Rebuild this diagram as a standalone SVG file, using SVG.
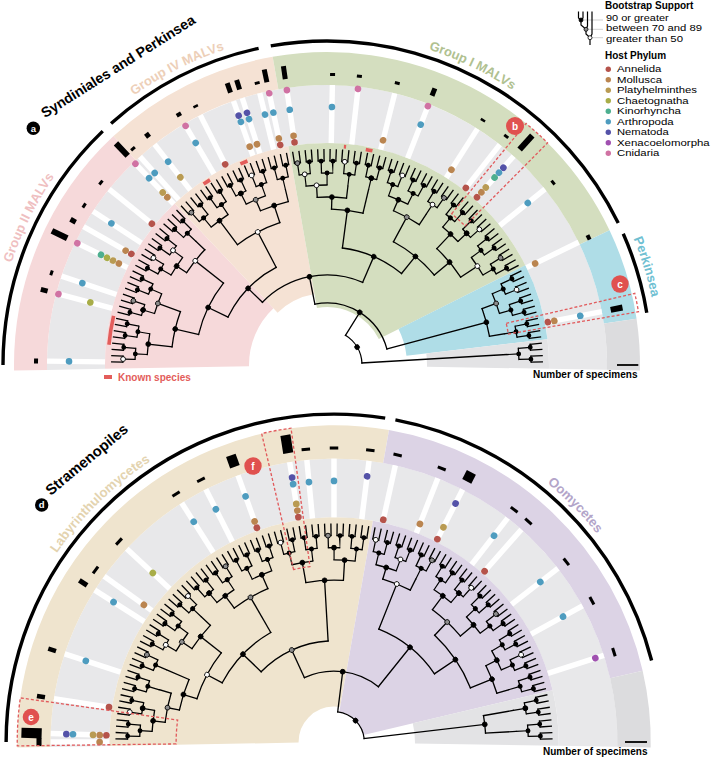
<svg xmlns="http://www.w3.org/2000/svg" width="712" height="758" viewBox="0 0 712 758">
<style>
text{font-family:"Liberation Sans",Arial,Helvetica,sans-serif}
.tk{fill:none;stroke:#000;stroke-linecap:butt}
.ar{fill:none;stroke:#000;stroke-width:1.3;stroke-linecap:square}
.st{stroke:#000;stroke-width:1.3;stroke-linecap:square}
.nb{fill:#000;stroke:#000;stroke-width:.8}
.ng{fill:#8c8c8c;stroke:#000;stroke-width:.8}
.nw{fill:#fff;stroke:#000;stroke-width:.8}
.bg{fill:none}
.bx{fill:none;stroke:#E15A5C;stroke-width:1.3;stroke-dasharray:3 2}
.lb{font-weight:bold;font-size:13px}
.dr{fill:none;stroke:#000;stroke-linecap:round}
.lg{font-size:9.3px}
</style>
<defs>
<clipPath id="ch"><rect x="-400" y="-400" width="800" height="401.5"/></clipPath>
<path id="lp" d="M-331.5,0 A331.5,331.5 0 0 1 331.5,0"/>
<rect id="wb" x="-280" y="-2.7" width="58" height="5.4" fill="#fff"/>
<rect id="ds" x="-292" y="-4.2" width="3" height="8.4"/>
<circle id="A" cx="-225" r="3.3" fill="#B5534B"/>
<circle id="M" cx="-231.6" r="3.3" fill="#BA8550"/>
<circle id="P" cx="-238.2" r="3.3" fill="#B99B53"/>
<circle id="C" cx="-244.8" r="3.3" fill="#A8AD48"/>
<circle id="K" cx="-251.4" r="3.3" fill="#4DAF8F"/>
<circle id="Ar" cx="-258" r="3.3" fill="#4E9CBF"/>
<circle id="N" cx="-264.6" r="3.3" fill="#5452A8"/>
<circle id="X" cx="-271.2" r="3.3" fill="#A050B0"/>
<circle id="Cn" cx="-277.8" r="3.3" fill="#D072A3"/>
</defs>
<rect width="712" height="758" fill="#fff"/>

<g id="tree-a" transform="translate(327,365)">
 <g id="backgrounds-a">
  <circle class="bg" r="251" stroke="#E8E8EA" stroke-width="58" pathLength="360" stroke-dasharray="182 360" transform="rotate(179)"/>
  <circle class="bg" r="296.5" stroke="#F6D9DA" stroke-width="33" pathLength="360" stroke-dasharray="48 360" transform="rotate(179)"/>
  <circle class="bg" r="296.5" stroke="#F5E2D4" stroke-width="33" pathLength="360" stroke-dasharray="33 360" transform="rotate(227)"/>
  <circle class="bg" r="296.5" stroke="#D4DEBF" stroke-width="33" pathLength="360" stroke-dasharray="74.5 360" transform="rotate(260)"/>
  <circle class="bg" r="296.5" stroke="#AFDDE7" stroke-width="33" pathLength="360" stroke-dasharray="17 360" transform="rotate(334.5)"/>
  <circle class="bg" r="296.5" stroke="#DCDCDE" stroke-width="33" pathLength="360" stroke-dasharray="9.5 360" transform="rotate(351.5)"/>
  <circle class="bg" r="150" stroke="#F6D9DA" stroke-width="144" pathLength="360" stroke-dasharray="47.67 360" transform="rotate(179)"/>
  <circle class="bg" r="147" stroke="#F5E2D4" stroke-width="150" pathLength="360" stroke-dasharray="33.33 360" transform="rotate(226.67)"/>
  <circle class="bg" r="140" stroke="#D4DEBF" stroke-width="164" pathLength="360" stroke-dasharray="73.33 360" transform="rotate(260)"/>
  <circle class="bg" r="151" stroke="#AFDDE7" stroke-width="142" pathLength="360" stroke-dasharray="20 360" transform="rotate(333.33)"/>
  <circle class="bg" r="161" stroke="#E3E3E5" stroke-width="122" pathLength="360" stroke-dasharray="7.67 360" transform="rotate(353.33)"/>
 </g>
 <g id="known-species-marks">
  <circle r="219" fill="none" stroke="#E35D5B" stroke-width="3.6" pathLength="360" stroke-dasharray="7.7 42.7 2 9 2 25.7 0.6 5.2 1.8 360" transform="rotate(185.3)"/>
 </g>
 <g id="specimens-a">
  <g transform="rotate(0.8)"><use href="#wb"/><use href="#Ar"/><rect x="-293" y="-2.5" width="4" height="5"/></g>
  <g transform="rotate(14.8)"><use href="#wb"/><use href="#Cn"/><use href="#C"/><rect x="-296" y="-2.5" width="7" height="5"/></g>
  <g transform="rotate(18.5)"><use href="#wb"/><use href="#Ar"/><rect x="-292" y="-2.5" width="3" height="5"/></g>
  <g transform="rotate(26)"><use href="#wb"/><use href="#Cn"/><use href="#K"/><use href="#C"/><use href="#P"/><use href="#M"/><rect x="-306" y="-3" width="17" height="6"/></g>
  <g transform="rotate(29.6)"><use href="#wb"/><use href="#M"/><use href="#A"/><rect x="-295" y="-2.5" width="6" height="5"/></g>
  <g transform="rotate(33.3)"><use href="#wb"/><use href="#Ar"/><rect x="-292" y="-2.5" width="3" height="5"/></g>
  <g transform="rotate(38.9)"><use href="#wb"/><use href="#A"/><rect x="-292" y="-2.5" width="3" height="5"/></g>
  <g transform="rotate(46.4)"><use href="#wb"/><use href="#Cn"/><use href="#Ar"/><use href="#P"/><use href="#M"/><rect x="-306" y="-3" width="17" height="6"/></g>
  <g transform="rotate(48.1)"><use href="#wb"/><use href="#Ar"/><rect x="-292" y="-2.5" width="3" height="5"/></g>
  <g transform="rotate(52)"><use href="#wb"/><use href="#Ar"/><use href="#P"/><rect x="-294" y="-2.5" width="5" height="5"/></g>
  <g transform="rotate(59.4)"><use href="#wb"/><use href="#Cn"/><use href="#Ar"/><rect x="-293" y="-2.5" width="4" height="5"/></g>
  <g transform="rotate(63.1)"><use href="#wb"/><use href="#A"/><rect x="-291.5" y="-2.5" width="2.5" height="5"/></g>
  <g transform="rotate(70.5)"><use href="#wb"/><use href="#N"/><use href="#Ar"/><use href="#M"/><rect x="-299" y="-2.5" width="10" height="5"/></g>
  <g transform="rotate(72.4)"><use href="#wb"/><use href="#N"/><use href="#Ar"/><use href="#M"/><rect x="-299" y="-2.5" width="10" height="5"/></g>
  <g transform="rotate(76.1)"><use href="#wb"/><use href="#Ar"/><rect x="-292" y="-2.5" width="3" height="5"/></g>
  <g transform="rotate(78)"><use href="#wb"/><use href="#Cn"/><use href="#Ar"/><use href="#M"/><use href="#A"/><rect x="-302" y="-2.5" width="13" height="5"/></g>
  <g transform="rotate(81.7)"><use href="#wb"/><use href="#Cn"/><use href="#Ar"/><use href="#M"/><use href="#A"/><rect x="-302" y="-2.5" width="13" height="5"/></g>
  <g transform="rotate(91.1)"><use href="#wb"/><use href="#Ar"/><rect x="-292" y="-2.5" width="3" height="5"/></g>
  <g transform="rotate(96.4)"><use href="#wb"/><use href="#Cn"/><rect x="-292" y="-2.5" width="3" height="5"/></g>
  <g transform="rotate(104)"><use href="#wb"/><use href="#M"/><rect x="-292" y="-2.5" width="3" height="5"/></g>
  <g transform="rotate(111.3)"><use href="#wb"/><use href="#Ar"/><use href="#Cn"/><rect x="-297" y="-2.5" width="8" height="5"/></g>
  <g transform="rotate(122.5)"><use href="#wb"/><use href="#M"/><rect x="-291.5" y="-2.5" width="2.5" height="5"/></g>
  <g transform="rotate(128.1)"><use href="#wb"/><use href="#A"/><rect x="-292" y="-2.5" width="3" height="5"/></g>
  <g transform="rotate(131.8)"><use href="#wb"/><use href="#N"/><use href="#Ar"/><use href="#K"/><use href="#P"/><use href="#M"/><use href="#A"/><rect x="-308" y="-3" width="19" height="6"/></g>
  <g transform="rotate(141.1)"><use href="#wb"/><use href="#Ar"/><rect x="-292" y="-2.5" width="3" height="5"/></g>
  <g transform="rotate(154)"><use href="#wb"/><use href="#M"/><rect x="-293" y="-2.5" width="4" height="5"/></g>
  <g transform="rotate(169)"><use href="#wb"/><use href="#Ar"/><use href="#M"/><use href="#A"/><rect x="-301" y="-3" width="12" height="6"/></g>
 </g>
 <g id="phylogeny-a" clip-path="url(#ch)">
  <circle class="tk" r="210" stroke-width="12" pathLength="360" stroke-dasharray="0.36 1.30667" transform="rotate(180.6533)"/>
  <circle class="ar" r="204" pathLength="360" stroke-dasharray="1.66667 1.66667" transform="rotate(180.8333)"/>
  <circle class="tk" r="198" stroke-width="12" pathLength="360" stroke-dasharray="0.36 2.97333" transform="rotate(181.4867)"/>
  <circle class="ar" r="192" pathLength="360" stroke-dasharray="3.33333 3.33333" transform="rotate(181.6667)"/>
  <circle class="tk" r="186" stroke-width="12" pathLength="360" stroke-dasharray="0.36 6.30667" transform="rotate(183.1533)"/>
  <g id="arcs-a">
   <circle class="ar" r="180" pathLength="360" stroke-dasharray="6.667 360" transform="rotate(183.333)"/>
   <circle class="ar" r="180" pathLength="360" stroke-dasharray="6.667 360" transform="rotate(196.667)"/>
   <circle class="ar" r="180" pathLength="360" stroke-dasharray="6.667 360" transform="rotate(210)"/>
   <circle class="ar" r="168" pathLength="360" stroke-dasharray="10 360" transform="rotate(213.333)"/>
   <circle class="ar" r="156" pathLength="360" stroke-dasharray="13.333 360" transform="rotate(186.667)"/>
   <circle class="ar" r="132" pathLength="360" stroke-dasharray="25 360" transform="rotate(193.333)"/>
   <circle class="ar" r="180" pathLength="360" stroke-dasharray="6.667 360" transform="rotate(230)"/>
   <circle class="ar" r="180" pathLength="360" stroke-dasharray="6.667 360" transform="rotate(243.333)"/>
   <circle class="ar" r="168" pathLength="360" stroke-dasharray="10 360" transform="rotate(246.667)"/>
   <circle class="ar" r="150" pathLength="360" stroke-dasharray="18.333 360" transform="rotate(233.333)"/>
   <circle class="ar" r="110" pathLength="360" stroke-dasharray="36.667 360" transform="rotate(205.833)"/>
   <circle class="ar" r="180" pathLength="360" stroke-dasharray="6.667 360" transform="rotate(263.333)"/>
   <circle class="ar" r="168" pathLength="360" stroke-dasharray="10 360" transform="rotate(266.667)"/>
   <circle class="ar" r="156" pathLength="360" stroke-dasharray="11.667 360" transform="rotate(271.667)"/>
   <circle class="ar" r="180" pathLength="360" stroke-dasharray="6.667 360" transform="rotate(290)"/>
   <circle class="ar" r="168" pathLength="360" stroke-dasharray="10 360" transform="rotate(293.333)"/>
   <circle class="ar" r="180" pathLength="360" stroke-dasharray="6.667 360" transform="rotate(310)"/>
   <circle class="ar" r="180" pathLength="360" stroke-dasharray="6.667 360" transform="rotate(323.333)"/>
   <circle class="ar" r="160" pathLength="360" stroke-dasharray="13.333 360" transform="rotate(313.333)"/>
   <circle class="ar" r="140" pathLength="360" stroke-dasharray="21.667 360" transform="rotate(298.333)"/>
   <circle class="ar" r="118" pathLength="360" stroke-dasharray="31.667 360" transform="rotate(277.5)"/>
   <circle class="ar" r="90" pathLength="360" stroke-dasharray="69.167 360" transform="rotate(224.167)"/>
   <circle class="ar" r="180" pathLength="360" stroke-dasharray="6.667 360" transform="rotate(336.667)"/>
   <circle class="ar" r="165" pathLength="360" stroke-dasharray="10 360" transform="rotate(340)"/>
   <circle class="ar" r="62" pathLength="360" stroke-dasharray="86.25 360" transform="rotate(258.75)"/>
   <circle class="ar" r="35" pathLength="360" stroke-dasharray="54.792 360" transform="rotate(301.875)"/>
  </g>
  <g id="stems-a">
   <line class="st" x1="-180" x2="-168" transform="rotate(43.333)"/>
   <line class="st" x1="-180" x2="-156" transform="rotate(6.667)"/>
   <line class="st" x1="-180" x2="-156" transform="rotate(20)"/>
   <line class="st" x1="-180" x2="-168" transform="rotate(33.333)"/>
   <line class="st" x1="-168" x2="-132" transform="rotate(38.333)"/>
   <line class="st" x1="-156" x2="-132" transform="rotate(13.333)"/>
   <line class="st" x1="-132" x2="-110" transform="rotate(25.833)"/>
   <line class="st" x1="-180" x2="-150" transform="rotate(53.333)"/>
   <line class="st" x1="-180" x2="-168" transform="rotate(66.667)"/>
   <line class="st" x1="-180" x2="-168" transform="rotate(76.667)"/>
   <line class="st" x1="-168" x2="-150" transform="rotate(71.667)"/>
   <line class="st" x1="-150" x2="-110" transform="rotate(62.5)"/>
   <line class="st" x1="-110" x2="-90" transform="rotate(44.167)"/>
   <line class="st" x1="-180" x2="-168" transform="rotate(86.667)"/>
   <line class="st" x1="-180" x2="-168" transform="rotate(96.667)"/>
   <line class="st" x1="-168" x2="-156" transform="rotate(91.667)"/>
   <line class="st" x1="-180" x2="-156" transform="rotate(103.333)"/>
   <line class="st" x1="-180" x2="-168" transform="rotate(113.333)"/>
   <line class="st" x1="-180" x2="-168" transform="rotate(123.333)"/>
   <line class="st" x1="-180" x2="-160" transform="rotate(133.333)"/>
   <line class="st" x1="-180" x2="-160" transform="rotate(146.667)"/>
   <line class="st" x1="-168" x2="-140" transform="rotate(118.333)"/>
   <line class="st" x1="-160" x2="-140" transform="rotate(140)"/>
   <line class="st" x1="-156" x2="-118" transform="rotate(97.5)"/>
   <line class="st" x1="-140" x2="-118" transform="rotate(129.167)"/>
   <line class="st" x1="-118" x2="-90" transform="rotate(113.333)"/>
   <line class="st" x1="-90" x2="-62" transform="rotate(78.75)"/>
   <line class="st" x1="-180" x2="-165" transform="rotate(160)"/>
   <line class="st" x1="-180" x2="-165" transform="rotate(170)"/>
   <line class="st" x1="-165" x2="-62" transform="rotate(165)"/>
   <line class="st" x1="-62" x2="-35" transform="rotate(121.875)"/>
   <line class="st" x1="-180" x2="-35" transform="rotate(176.667)"/>
  </g>
  <g id="node-support-a">
   <circle class="dr" r="204" stroke-width="4.8" pathLength="360" stroke-dasharray="0.01 3.32333" transform="rotate(181.6617)"/>
   <circle class="dr" r="192" stroke-width="4.8" pathLength="360" stroke-dasharray="0.01 6.65667" transform="rotate(183.3283)"/>
   <circle class="dr" r="192" stroke-width="3.2" stroke="#8c8c8c" pathLength="360" stroke-dasharray="0.01 6.65667" transform="rotate(183.3283)"/>
   <circle class="nw" cx="-204" r="2.4" transform="rotate(1.667)"/>
   <circle class="nw" cx="-204" r="2.4" transform="rotate(31.667)"/>
   <circle class="nw" cx="-204" r="2.4" transform="rotate(68.333)"/>
   <circle class="nw" cx="-204" r="2.4" transform="rotate(95)"/>
   <circle class="nw" cx="-204" r="2.4" transform="rotate(111.667)"/>
   <circle class="nw" cx="-204" r="2.4" transform="rotate(138.333)"/>
   <circle class="nw" cx="-204" r="2.4" transform="rotate(158.333)"/>
   <circle class="ng" cx="-204" r="2.4" transform="rotate(18.333)"/>
   <circle class="ng" cx="-204" r="2.4" transform="rotate(48.333)"/>
   <circle class="ng" cx="-204" r="2.4" transform="rotate(81.667)"/>
   <circle class="ng" cx="-204" r="2.4" transform="rotate(125)"/>
   <circle class="ng" cx="-204" r="2.4" transform="rotate(148.333)"/>
   <circle class="nb" cx="-192" r="2.4" transform="rotate(16.667)"/>
   <circle class="nb" cx="-192" r="2.4" transform="rotate(63.333)"/>
   <circle class="nb" cx="-192" r="2.4" transform="rotate(103.333)"/>
   <circle class="nb" cx="-192" r="2.4" transform="rotate(136.667)"/>
   <circle class="nw" cx="-192" r="2.4" transform="rotate(36.667)"/>
   <circle class="nw" cx="-192" r="2.4" transform="rotate(83.333)"/>
   <circle class="nw" cx="-192" r="2.4" transform="rotate(123.333)"/>
   <circle class="nb" cx="-180" r="2.4" transform="rotate(6.667)"/>
   <circle class="ng" cx="-180" r="2.4" transform="rotate(20)"/>
   <circle class="nb" cx="-180" r="2.4" transform="rotate(33.333)"/>
   <circle class="nw" cx="-168" r="2.4" transform="rotate(38.333)"/>
   <circle class="nb" cx="-156" r="2.4" transform="rotate(13.333)"/>
   <circle class="nb" cx="-132" r="2.4" transform="rotate(25.833)"/>
   <circle class="nb" cx="-180" r="2.4" transform="rotate(53.333)"/>
   <circle class="ng" cx="-180" r="2.4" transform="rotate(66.667)"/>
   <circle class="nb" cx="-168" r="2.4" transform="rotate(71.667)"/>
   <circle class="nw" cx="-150" r="2.4" transform="rotate(62.5)"/>
   <circle class="nb" cx="-110" r="2.4" transform="rotate(44.167)"/>
   <circle class="nw" cx="-180" r="2.4" transform="rotate(86.667)"/>
   <circle class="nb" cx="-168" r="2.4" transform="rotate(91.667)"/>
   <circle class="nb" cx="-156" r="2.4" transform="rotate(97.5)"/>
   <circle class="nb" cx="-180" r="2.4" transform="rotate(113.333)"/>
   <circle class="ng" cx="-168" r="2.4" transform="rotate(118.333)"/>
   <circle class="nb" cx="-180" r="2.4" transform="rotate(133.333)"/>
   <circle class="nw" cx="-180" r="2.4" transform="rotate(146.667)"/>
   <circle class="nb" cx="-160" r="2.4" transform="rotate(140)"/>
   <circle class="nb" cx="-140" r="2.4" transform="rotate(129.167)"/>
   <circle class="nb" cx="-118" r="2.4" transform="rotate(113.333)"/>
   <circle class="nb" cx="-90" r="2.4" transform="rotate(78.75)"/>
   <circle class="ng" cx="-180" r="2.4" transform="rotate(160)"/>
   <circle class="nb" cx="-165" r="2.4" transform="rotate(165)"/>
   <circle class="nb" cx="-62" r="2.4" transform="rotate(121.875)"/>
   <circle class="nb" cx="-35" r="2.4" transform="rotate(149.27)"/>
  </g>
 </g>
 <circle id="clade-brackets-a" r="324" fill="none" stroke="#000" stroke-width="3.4" pathLength="360" stroke-dasharray="46.2 2 29.6 2.2 74 2.1 14.6 360" transform="rotate(180)"/>
 <g id="clade-labels-a" class="lb" text-anchor="middle">
  <text fill="#EFBFC1"><textPath href="#lp" startOffset="14.6%">Group II MALVs</textPath></text>
  <text fill="#EDCFB8"><textPath href="#lp" startOffset="35.1%">Group IV MALVs</textPath></text>
  <text fill="#B0C190"><textPath href="#lp" startOffset="64.4%">Group I MALVs</textPath></text>
  <text fill="#6FC0D2"><textPath href="#lp" startOffset="90.5%">Perkinsea</textPath></text>
 </g>
 <path id="box-b" class="bx" transform="rotate(129.5)" d="M-196,0 L-313,0 A313,313 0 0 1 -311.66,-28.91 L-195.16,-18.10 A196,196 0 0 0 -196,0 Z"/>
 <path id="box-c" class="bx" transform="rotate(166.9)" d="M-184,0 L-316,0 A316,316 0 0 1 -315.44,-18.74 L-183.68,-10.91 A184,184 0 0 0 -184,0 Z"/>
</g>

<g id="tree-d" transform="translate(334,742) scale(1.012)">
 <g id="backgrounds-d">
  <circle class="bg" r="251" stroke="#E8E8EA" stroke-width="58" pathLength="360" stroke-dasharray="182 360" transform="rotate(179)"/>
  <circle class="bg" r="296.5" stroke="#EFE4CE" stroke-width="33" pathLength="360" stroke-dasharray="101 360" transform="rotate(179)"/>
  <circle class="bg" r="296.5" stroke="#DCD3E5" stroke-width="33" pathLength="360" stroke-dasharray="67 360" transform="rotate(280)"/>
  <circle class="bg" r="296.5" stroke="#DCDCDE" stroke-width="33" pathLength="360" stroke-dasharray="14 360" transform="rotate(347)"/>
  <circle class="bg" r="128.5" stroke="#EFE4CE" stroke-width="187" pathLength="360" stroke-dasharray="101 360" transform="rotate(179)"/>
  <circle class="bg" r="126" stroke="#DCD3E5" stroke-width="192" pathLength="360" stroke-dasharray="66.67 360" transform="rotate(280)"/>
  <circle class="bg" r="151" stroke="#E3E3E5" stroke-width="142" pathLength="360" stroke-dasharray="14.33 360" transform="rotate(346.67)"/>
 </g>
 <g id="specimens-d">
  <g transform="rotate(0)"><use href="#wb"/><use href="#M"/><rect x="-294" y="-4" width="5" height="8"/></g>
  <g transform="rotate(1.7)"><use href="#wb"/><use href="#N"/><use href="#Ar"/><use href="#P"/><use href="#M"/><use href="#A"/><rect x="-309" y="-5" width="20" height="10"/></g>
  <g transform="rotate(8.8)"><use href="#wb"/><use href="#A"/><rect x="-297" y="-2.2" width="8" height="4.5"/></g>
  <g transform="rotate(18.1)"><use href="#wb"/><use href="#Ar"/><rect x="-297" y="-2.2" width="8" height="4.5"/></g>
  <g transform="rotate(32.4)"><use href="#wb"/><use href="#Ar"/><rect x="-298" y="-2.5" width="9" height="5"/></g>
  <g transform="rotate(35.8)"><use href="#wb"/><use href="#M"/><use href="#ds"/></g>
  <g transform="rotate(43)"><use href="#wb"/><use href="#C"/><use href="#ds"/></g>
  <g transform="rotate(57.5)"><use href="#wb"/><use href="#Ar"/><use href="#ds"/></g>
  <g transform="rotate(63.1)"><use href="#wb"/><use href="#Ar"/><use href="#ds"/></g>
  <g transform="rotate(70.2)"><use href="#wb"/><use href="#Ar"/><use href="#M"/><use href="#A"/><rect x="-301" y="-5" width="12" height="10"/></g>
  <g transform="rotate(81)"><use href="#wb"/><use href="#N"/><use href="#Ar"/><use href="#P"/><use href="#M"/><use href="#A"/><rect x="-307" y="-5" width="18" height="10"/></g>
  <g transform="rotate(84.5)"><use href="#wb"/><use href="#Ar"/><use href="#ds"/></g>
  <g transform="rotate(90)"><use href="#wb"/><use href="#Ar"/><use href="#ds"/></g>
  <g transform="rotate(97.1)"><use href="#wb"/><use href="#N"/><use href="#ds"/></g>
  <g transform="rotate(102.5)"><use href="#wb"/><use href="#A"/><use href="#ds"/></g>
  <g transform="rotate(111.5)"><use href="#wb"/><use href="#M"/><use href="#ds"/></g>
  <g transform="rotate(117)"><use href="#wb"/><use href="#N"/><use href="#P"/><use href="#A"/><rect x="-299" y="-5" width="10" height="10"/></g>
  <g transform="rotate(127.8)"><use href="#wb"/><use href="#Ar"/><use href="#ds"/></g>
  <g transform="rotate(131.4)"><use href="#wb"/><use href="#A"/><use href="#ds"/></g>
  <g transform="rotate(142.2)"><use href="#wb"/><use href="#Ar"/><use href="#ds"/></g>
  <g transform="rotate(151.3)"><use href="#wb"/><use href="#Ar"/><use href="#ds"/></g>
  <g transform="rotate(162.2)"><use href="#wb"/><use href="#X"/><use href="#ds"/></g>
 </g>
 <g id="phylogeny-d" clip-path="url(#ch)">
  <circle class="tk" r="210" stroke-width="12" pathLength="360" stroke-dasharray="0.36 1.30667" transform="rotate(180.6533)"/>
  <circle class="ar" r="204" pathLength="360" stroke-dasharray="1.66667 1.66667" transform="rotate(180.8333)"/>
  <circle class="tk" r="198" stroke-width="12" pathLength="360" stroke-dasharray="0.36 2.97333" transform="rotate(181.4867)"/>
  <circle class="ar" r="192" pathLength="360" stroke-dasharray="3.33333 3.33333" transform="rotate(181.6667)"/>
  <circle class="tk" r="186" stroke-width="12" pathLength="360" stroke-dasharray="0.36 6.30667" transform="rotate(183.1533)"/>
  <g id="arcs-d">
   <circle class="ar" r="180" pathLength="360" stroke-dasharray="6.667 360" transform="rotate(183.333)"/>
   <circle class="ar" r="168" pathLength="360" stroke-dasharray="10 360" transform="rotate(186.667)"/>
   <circle class="ar" r="156" pathLength="360" stroke-dasharray="11.667 360" transform="rotate(191.667)"/>
   <circle class="ar" r="180" pathLength="360" stroke-dasharray="6.667 360" transform="rotate(210)"/>
   <circle class="ar" r="168" pathLength="360" stroke-dasharray="10 360" transform="rotate(213.333)"/>
   <circle class="ar" r="142" pathLength="360" stroke-dasharray="20.833 360" transform="rotate(197.5)"/>
   <circle class="ar" r="180" pathLength="360" stroke-dasharray="6.667 360" transform="rotate(230)"/>
   <circle class="ar" r="180" pathLength="360" stroke-dasharray="6.667 360" transform="rotate(243.333)"/>
   <circle class="ar" r="165" pathLength="360" stroke-dasharray="13.333 360" transform="rotate(233.333)"/>
   <circle class="ar" r="125" pathLength="360" stroke-dasharray="32.083 360" transform="rotate(207.917)"/>
   <circle class="ar" r="180" pathLength="360" stroke-dasharray="6.667 360" transform="rotate(256.667)"/>
   <circle class="ar" r="180" pathLength="360" stroke-dasharray="6.667 360" transform="rotate(270)"/>
   <circle class="ar" r="160" pathLength="360" stroke-dasharray="13.333 360" transform="rotate(260)"/>
   <circle class="ar" r="100" pathLength="360" stroke-dasharray="42.708 360" transform="rotate(223.958)"/>
   <circle class="ar" r="180" pathLength="360" stroke-dasharray="6.667 360" transform="rotate(283.333)"/>
   <circle class="ar" r="168" pathLength="360" stroke-dasharray="10 360" transform="rotate(286.667)"/>
   <circle class="ar" r="180" pathLength="360" stroke-dasharray="6.667 360" transform="rotate(303.333)"/>
   <circle class="ar" r="180" pathLength="360" stroke-dasharray="6.667 360" transform="rotate(316.667)"/>
   <circle class="ar" r="163" pathLength="360" stroke-dasharray="13.333 360" transform="rotate(306.667)"/>
   <circle class="ar" r="180" pathLength="360" stroke-dasharray="6.667 360" transform="rotate(330)"/>
   <circle class="ar" r="168" pathLength="360" stroke-dasharray="10 360" transform="rotate(333.333)"/>
   <circle class="ar" r="145" pathLength="360" stroke-dasharray="25 360" transform="rotate(313.333)"/>
   <circle class="ar" r="120" pathLength="360" stroke-dasharray="34.167 360" transform="rotate(291.667)"/>
   <circle class="ar" r="70" pathLength="360" stroke-dasharray="63.4375 360" transform="rotate(245.3125)"/>
   <circle class="ar" r="150" pathLength="360" stroke-dasharray="6.667 360" transform="rotate(350)"/>
   <circle class="ar" r="30" pathLength="360" stroke-dasharray="76.3 360" transform="rotate(277.03)"/>
  </g>
  <g id="stems-d">
   <line class="st" x1="-180" x2="-168" transform="rotate(6.667)"/>
   <line class="st" x1="-180" x2="-168" transform="rotate(16.667)"/>
   <line class="st" x1="-168" x2="-156" transform="rotate(11.667)"/>
   <line class="st" x1="-180" x2="-156" transform="rotate(23.333)"/>
   <line class="st" x1="-180" x2="-168" transform="rotate(33.333)"/>
   <line class="st" x1="-180" x2="-168" transform="rotate(43.333)"/>
   <line class="st" x1="-156" x2="-142" transform="rotate(17.5)"/>
   <line class="st" x1="-168" x2="-142" transform="rotate(38.333)"/>
   <line class="st" x1="-180" x2="-165" transform="rotate(53.333)"/>
   <line class="st" x1="-180" x2="-165" transform="rotate(66.667)"/>
   <line class="st" x1="-142" x2="-125" transform="rotate(27.917)"/>
   <line class="st" x1="-165" x2="-125" transform="rotate(60)"/>
   <line class="st" x1="-180" x2="-160" transform="rotate(80)"/>
   <line class="st" x1="-180" x2="-160" transform="rotate(93.333)"/>
   <line class="st" x1="-125" x2="-100" transform="rotate(43.958)"/>
   <line class="st" x1="-160" x2="-100" transform="rotate(86.667)"/>
   <line class="st" x1="-180" x2="-168" transform="rotate(106.667)"/>
   <line class="st" x1="-180" x2="-168" transform="rotate(116.667)"/>
   <line class="st" x1="-180" x2="-163" transform="rotate(126.667)"/>
   <line class="st" x1="-180" x2="-163" transform="rotate(140)"/>
   <line class="st" x1="-180" x2="-168" transform="rotate(153.333)"/>
   <line class="st" x1="-180" x2="-168" transform="rotate(163.333)"/>
   <line class="st" x1="-163" x2="-145" transform="rotate(133.333)"/>
   <line class="st" x1="-168" x2="-145" transform="rotate(158.333)"/>
   <line class="st" x1="-168" x2="-120" transform="rotate(111.667)"/>
   <line class="st" x1="-145" x2="-120" transform="rotate(145.833)"/>
   <line class="st" x1="-100" x2="-70" transform="rotate(65.3125)"/>
   <line class="st" x1="-120" x2="-70" transform="rotate(128.75)"/>
   <line class="st" x1="-180" x2="-150" transform="rotate(170)"/>
   <line class="st" x1="-180" x2="-150" transform="rotate(176.667)"/>
   <line class="st" x1="-70" x2="-30" transform="rotate(97.03)"/>
   <line class="st" x1="-150" x2="-30" transform="rotate(173.333)"/>
  </g>
  <g id="node-support-d">
   <circle class="dr" r="204" stroke-width="4.8" pathLength="360" stroke-dasharray="0.01 3.32333" transform="rotate(181.6617)"/>
   <circle class="dr" r="192" stroke-width="4.8" pathLength="360" stroke-dasharray="0.01 6.65667" transform="rotate(183.3283)"/>
   <circle class="dr" r="192" stroke-width="3.2" stroke="#8c8c8c" pathLength="360" stroke-dasharray="0.01 6.65667" transform="rotate(183.3283)"/>
   <circle class="nw" cx="-204" r="2.4" transform="rotate(8.333)"/>
   <circle class="nw" cx="-204" r="2.4" transform="rotate(45)"/>
   <circle class="nw" cx="-204" r="2.4" transform="rotate(75)"/>
   <circle class="nw" cx="-204" r="2.4" transform="rotate(101.667)"/>
   <circle class="nw" cx="-204" r="2.4" transform="rotate(131.667)"/>
   <circle class="nw" cx="-204" r="2.4" transform="rotate(155)"/>
   <circle class="ng" cx="-204" r="2.4" transform="rotate(25)"/>
   <circle class="ng" cx="-204" r="2.4" transform="rotate(58.333)"/>
   <circle class="ng" cx="-204" r="2.4" transform="rotate(88.333)"/>
   <circle class="ng" cx="-204" r="2.4" transform="rotate(118.333)"/>
   <circle class="ng" cx="-204" r="2.4" transform="rotate(141.667)"/>
   <circle class="nb" cx="-192" r="2.4" transform="rotate(10)"/>
   <circle class="nb" cx="-192" r="2.4" transform="rotate(50)"/>
   <circle class="nb" cx="-192" r="2.4" transform="rotate(90)"/>
   <circle class="nb" cx="-192" r="2.4" transform="rotate(130)"/>
   <circle class="nb" cx="-192" r="2.4" transform="rotate(170)"/>
   <circle class="nw" cx="-192" r="2.4" transform="rotate(30)"/>
   <circle class="nw" cx="-192" r="2.4" transform="rotate(110)"/>
   <circle class="nb" cx="-180" r="2.4" transform="rotate(6.667)"/>
   <circle class="ng" cx="-168" r="2.4" transform="rotate(11.667)"/>
   <circle class="nb" cx="-156" r="2.4" transform="rotate(17.5)"/>
   <circle class="ng" cx="-180" r="2.4" transform="rotate(33.333)"/>
   <circle class="nb" cx="-168" r="2.4" transform="rotate(38.333)"/>
   <circle class="nw" cx="-142" r="2.4" transform="rotate(27.917)"/>
   <circle class="nb" cx="-180" r="2.4" transform="rotate(53.333)"/>
   <circle class="nb" cx="-180" r="2.4" transform="rotate(66.667)"/>
   <circle class="ng" cx="-165" r="2.4" transform="rotate(60)"/>
   <circle class="nb" cx="-125" r="2.4" transform="rotate(43.958)"/>
   <circle class="nb" cx="-180" r="2.4" transform="rotate(80)"/>
   <circle class="nb" cx="-180" r="2.4" transform="rotate(93.333)"/>
   <circle class="nb" cx="-160" r="2.4" transform="rotate(86.667)"/>
   <circle class="ng" cx="-100" r="2.4" transform="rotate(65.3125)"/>
   <circle class="nb" cx="-180" r="2.4" transform="rotate(106.667)"/>
   <circle class="nw" cx="-168" r="2.4" transform="rotate(111.667)"/>
   <circle class="nb" cx="-180" r="2.4" transform="rotate(126.667)"/>
   <circle class="nb" cx="-180" r="2.4" transform="rotate(140)"/>
   <circle class="ng" cx="-163" r="2.4" transform="rotate(133.333)"/>
   <circle class="nb" cx="-180" r="2.4" transform="rotate(153.333)"/>
   <circle class="nb" cx="-168" r="2.4" transform="rotate(158.333)"/>
   <circle class="nb" cx="-145" r="2.4" transform="rotate(145.833)"/>
   <circle class="nb" cx="-120" r="2.4" transform="rotate(128.75)"/>
   <circle class="nb" cx="-70" r="2.4" transform="rotate(97.03)"/>
   <circle class="nb" cx="-150" r="2.4" transform="rotate(173.333)"/>
   <circle class="nb" cx="-30" r="2.4" transform="rotate(135.18)"/>
  </g>
 </g>
 <circle id="clade-brackets-d" r="324" fill="none" stroke="#000" stroke-width="3.4" pathLength="360" stroke-dasharray="99 1.8 64.8 360" transform="rotate(180)"/>
 <g id="clade-labels-d" class="lb" text-anchor="middle">
  <text fill="#E3D3AF"><textPath href="#lp" startOffset="25.3%">Labyrinthulomycetes</textPath></text>
  <text fill="#B3A5C9"><textPath href="#lp" startOffset="75.3%">Oomycetes</textPath></text>
 </g>
 <path id="box-f" class="bx" transform="rotate(76.8)" d="M-175,0 L-313,0 A313,313 0 0 1 -311.61,-29.46 L-174.22,-16.47 A175,175 0 0 0 -175,0 Z"/>
 <path id="box-e" class="bx" transform="rotate(-0.7)" d="M-156,0 L-313,0 A313,313 0 0 1 -309.40,-47.34 L-154.20,-23.60 A156,156 0 0 0 -156,0 Z"/>
</g>

<g id="title-a">
 <circle cx="33.3" cy="128.3" r="6.7" fill="#000"/>
 <text x="33.3" y="131.6" fill="#fff" font-size="9.5" font-weight="bold" text-anchor="middle">a</text>
 <text transform="translate(45,118.3) rotate(-32.3)" font-size="14.2" font-weight="bold" fill="#000">Syndiniales and Perkinsea</text>
</g>
<g id="title-d">
 <circle cx="41.7" cy="505" r="6.7" fill="#000"/>
 <text x="41.7" y="508.3" fill="#fff" font-size="9.5" font-weight="bold" text-anchor="middle">d</text>
 <text transform="translate(50.7,496) rotate(-39.7)" font-size="14.8" font-weight="bold" fill="#000">Stramenopiles</text>
</g>
<g id="callouts" font-size="10" font-weight="bold" fill="#fff" text-anchor="middle">
 <g id="callout-b"><circle cx="515" cy="126" r="9" fill="#E0514F"/><text x="515" y="129.6">b</text></g>
 <g id="callout-c"><circle cx="620" cy="284" r="8.7" fill="#E0514F"/><text x="620" y="287.6">c</text></g>
 <g id="callout-e"><circle cx="31" cy="717" r="8.3" fill="#E0514F"/><text x="31" y="720.6">e</text></g>
 <g id="callout-f"><circle cx="253" cy="466" r="8.7" fill="#E0514F"/><text x="253" y="469.6">f</text></g>
</g>
<g id="known-species-key">
 <rect x="104" y="375" width="8" height="4" fill="#E35D5B"/>
 <text x="118" y="380.5" font-size="10" font-weight="bold" fill="#E35D5B">Known species</text>
</g>
<g id="scale-a">
 <line x1="617" y1="365" x2="638.3" y2="365" stroke="#000" stroke-width="1.8"/>
 <text x="533" y="377.5" font-size="10" font-weight="bold">Number of specimens</text>
</g>
<g id="scale-d">
 <line x1="625" y1="742" x2="647" y2="742" stroke="#000" stroke-width="1.8"/>
 <text x="543" y="755" font-size="10" font-weight="bold">Number of specimens</text>
</g>
<g id="legend-bootstrap">
 <text x="605" y="9" font-size="10" font-weight="bold">Bootstrap Support</text>
 <path d="M583,20 H603 M588,29.3 H603 M592,37.7 H603" stroke="#b0b0b0" stroke-width="0.6" fill="none"/>
 <path d="M578.5,11.5 V18 L581,20 L583,18 V11.5 M581,20 V25 L586,29.3 L587.5,26 V11.5 M586,29.3 V34 L590,37.7 L592,34 V11.5 M590,37.7 V45" fill="none" stroke="#000" stroke-width="1.2"/>
 <circle class="nb" cx="581" cy="20" r="2"/>
 <circle class="ng" cx="586" cy="29.3" r="2"/>
 <circle class="nw" cx="590" cy="37.7" r="2"/>
 <text class="lg" x="606" y="20.5" textLength="62.7" lengthAdjust="spacingAndGlyphs">90 or greater</text>
 <text class="lg" x="606" y="31" textLength="96" lengthAdjust="spacingAndGlyphs">between 70 and 89</text>
 <text class="lg" x="606" y="41.5" textLength="77" lengthAdjust="spacingAndGlyphs">greater than 50</text>
</g>
<g id="legend-host">
 <text x="605" y="59.3" font-size="10" font-weight="bold">Host Phylum</text>
 <circle cx="608.3" cy="69.3" r="2.7" fill="#B5534B"/><text class="lg" x="617" y="72.3" textLength="44.3" lengthAdjust="spacingAndGlyphs">Annelida</text>
 <circle cx="608.3" cy="79.8" r="2.7" fill="#BA8550"/><text class="lg" x="617" y="82.8" textLength="45" lengthAdjust="spacingAndGlyphs">Mollusca</text>
 <circle cx="608.3" cy="90.3" r="2.7" fill="#B99B53"/><text class="lg" x="617" y="93.3" textLength="80" lengthAdjust="spacingAndGlyphs">Platyhelminthes</text>
 <circle cx="608.3" cy="100.8" r="2.7" fill="#A8AD48"/><text class="lg" x="617" y="103.8" textLength="71.7" lengthAdjust="spacingAndGlyphs">Chaetognatha</text>
 <circle cx="608.3" cy="111.3" r="2.7" fill="#4DAF8F"/><text class="lg" x="617" y="114.3" textLength="64" lengthAdjust="spacingAndGlyphs">Kinorhyncha</text>
 <circle cx="608.3" cy="121.8" r="2.7" fill="#4E9CBF"/><text class="lg" x="617" y="124.8" textLength="56.7" lengthAdjust="spacingAndGlyphs">Arthropoda</text>
 <circle cx="608.3" cy="132.3" r="2.7" fill="#5452A8"/><text class="lg" x="617" y="135.3" textLength="51.7" lengthAdjust="spacingAndGlyphs">Nematoda</text>
 <circle cx="608.3" cy="142.8" r="2.7" fill="#A050B0"/><text class="lg" x="617" y="145.8" textLength="92.7" lengthAdjust="spacingAndGlyphs">Xenacoelomorpha</text>
 <circle cx="608.3" cy="153.3" r="2.7" fill="#D072A3"/><text class="lg" x="617" y="156.3" textLength="42.3" lengthAdjust="spacingAndGlyphs">Cnidaria</text>
</g>
</svg>
